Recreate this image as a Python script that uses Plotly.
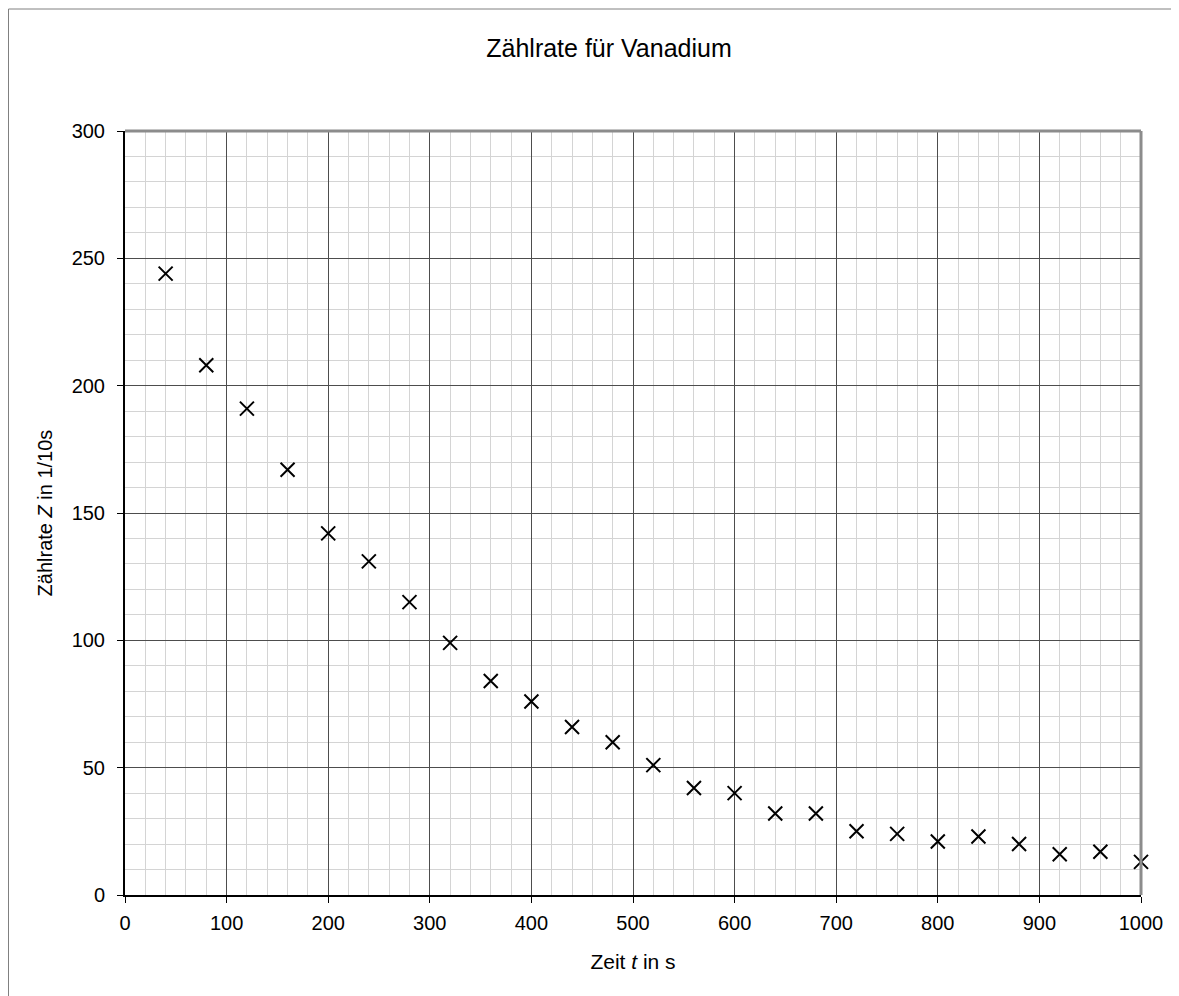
import plotly.graph_objects as go

# measured time in s
zeit = [40, 80, 120, 160, 200, 240, 280, 320, 360, 400, 440, 480, 520,
        560, 600, 640, 680, 720, 760, 800, 840, 880, 920, 960, 1000]

# count rate per 10 s
zaehlrate = [244, 208, 191, 167, 142, 131, 115, 99, 84, 76, 66, 60, 51,
             42, 40, 32, 32, 25, 24, 21, 23, 20, 16, 17, 13]

font_name = "Liberation Sans, Arial, sans-serif"

fig = go.Figure()

fig.add_trace(go.Scatter(
    x=zeit,
    y=zaehlrate,
    mode="markers",
    marker=dict(symbol="x-thin", size=14, line=dict(width=2, color="black")),
    showlegend=False,
    cliponaxis=False
))

# page body adds 8px offset, so margins are shifted accordingly
fig.update_layout(
    width=1179,
    height=996,
    paper_bgcolor="white",
    plot_bgcolor="white",
    margin=dict(l=117, r=46, t=123, b=109),
    font=dict(family=font_name, size=20, color="black"),
    title=dict(
        text="Zählrate für Vanadium",
        x=601 / 1179,
        xref="container",
        xanchor="center",
        y=1 - 40 / 996,
        yref="container",
        yanchor="middle",
        font=dict(size=25)
    )
)

fig.update_xaxes(
    range=[0, 1000],
    dtick=100,
    showline=True,
    linecolor="black",
    linewidth=2,
    ticks="outside",
    ticklen=6,
    tickcolor="black",
    ticklabelstandoff=3,
    showgrid=True,
    gridcolor="#4d4d4d",
    gridwidth=1,
    zeroline=False,
    minor=dict(dtick=20, showgrid=True, gridcolor="#d4d4d4", gridwidth=1),
    title=dict(text="Zeit <i>t</i> in s", standoff=21, font=dict(size=21))
)

fig.update_yaxes(
    range=[0, 300],
    dtick=50,
    showline=True,
    linecolor="black",
    linewidth=2,
    ticks="outside",
    ticklen=6,
    tickcolor="black",
    ticklabelstandoff=8,
    showgrid=True,
    gridcolor="#4d4d4d",
    gridwidth=1,
    zeroline=False,
    minor=dict(dtick=10, showgrid=True, gridcolor="#d4d4d4", gridwidth=1),
    title=dict(text="Zählrate <i>Z</i> in 1/10s", standoff=14, font=dict(size=20))
)

# grey plot border on top and right
fig.add_shape(type="line", xref="paper", yref="paper", x0=0, x1=1, y0=1, y1=1,
              line=dict(color="#8c8c8c", width=3))
fig.add_shape(type="line", xref="paper", yref="paper", x0=1, x1=1, y0=0, y1=1,
              line=dict(color="#8c8c8c", width=3))

# outer chart frame (left and top edges visible)
fl = (0.5 - 117) / 1016
ft = (887 - 1) / 764
fig.add_shape(type="line", xref="paper", yref="paper", x0=fl, x1=fl, y0=-0.2, y1=ft,
              line=dict(color="#808080", width=1))
fig.add_shape(type="line", xref="paper", yref="paper", x0=fl, x1=1.2, y0=ft, y1=ft,
              line=dict(color="#808080", width=1))

fig.write_html("out.html")
